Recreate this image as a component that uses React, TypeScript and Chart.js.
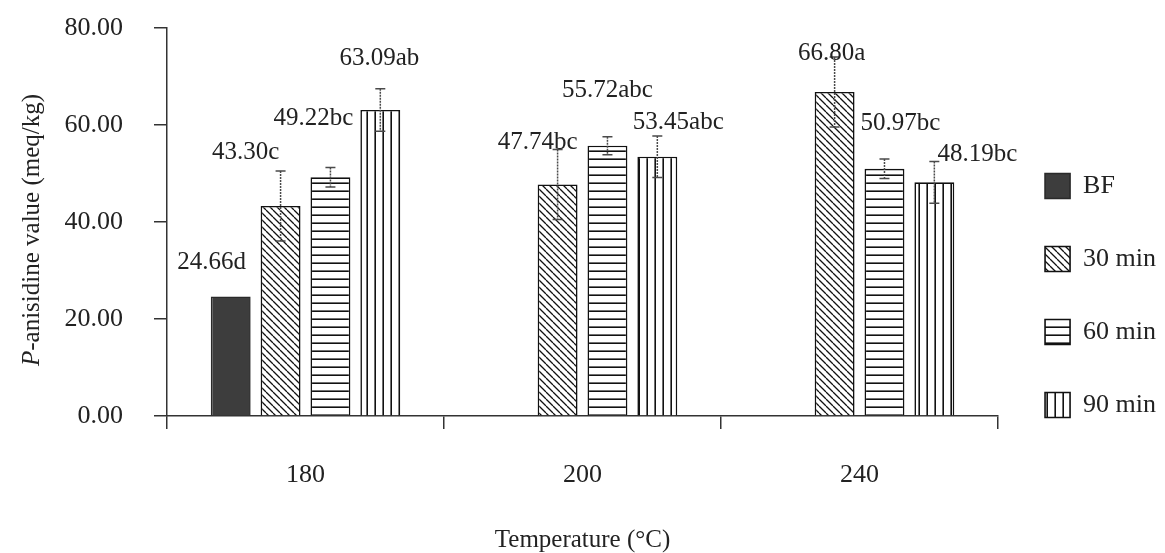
import React, { useEffect, useRef } from 'react';
import { Chart, registerables } from 'chart.js';

Chart.register(...registerables);

// ---------- data ----------
const categories = ['180', '200', '240'];
const seriesNames = ['BF', '30 min', '60 min', '90 min'];
const bfValues = [24.66, null, null];
const min30Values = [43.3, 47.74, 66.8];
const min60Values = [49.22, 55.72, 50.97];
const min90Values = [63.09, 53.45, 48.19];
const bfErrors = [0, null, null];
const min30Errors = [7.2, 7.2, 7.2];
const min60Errors = [2.0, 1.85, 2.0];
const min90Errors = [4.4, 4.3, 4.3];
const bfLetters = ['d', '', ''];
const min30Letters = ['c', 'bc', 'a'];
const min60Letters = ['bc', 'abc', 'bc'];
const min90Letters = ['ab', 'abc', 'bc'];
const yTickValues = [0, 20, 40, 60, 80];
const xTitle = 'Temperature (°C)';
const yTitleItalic = 'P';
const yTitleRest = '-anisidine value (meq/kg)';

// ---------- styling (not data) ----------
const FONT = '"Liberation Serif", "Times New Roman", serif';
const TEXT = '#222';
const AXIS = '#333';
// label offsets [dx, dy] from bar centre / bar top, per series, per category
const LABEL_OFFSETS = [
  [[-19, -34], [0, 0], [0, 0]],
  [[-35, -54], [-20, -42], [-3, -39]],
  [[-17, -59], [0, -55], [16, -45]],
  [[-1, -52], [21, -34], [43, -28]],
];

function makePattern(kind: 'diag' | 'horiz' | 'vert'): CanvasPattern | string {
  const c = document.createElement('canvas');
  const s = kind === 'diag' ? 7 : 8;
  c.width = s;
  c.height = s;
  const g = c.getContext('2d');
  if (!g) return '#fff';
  g.fillStyle = '#ffffff';
  g.fillRect(0, 0, s, s);
  g.fillStyle = '#111';
  g.strokeStyle = '#111';
  if (kind === 'diag') {
    g.lineWidth = 1.3;
    g.beginPath();
    for (const k of [-s, 0, s]) {
      g.moveTo(k, 0);
      g.lineTo(k + s, s);
    }
    g.stroke();
  } else if (kind === 'horiz') {
    g.fillRect(0, s - 1.6, s, 1.6);
  } else {
    g.fillRect(s - 1.6, 0, 1.6, s);
  }
  const p = g.createPattern(c, 'repeat');
  return p || '#fff';
}

const errorsBySeries = [bfErrors, min30Errors, min60Errors, min90Errors];
const lettersBySeries = [bfLetters, min30Letters, min60Letters, min90Letters];

const errorBarPlugin = {
  id: 'errorBars',
  afterDatasetsDraw(chart: any) {
    const { ctx } = chart;
    const yScale = chart.scales.y;
    chart.data.datasets.forEach((ds: any, di: number) => {
      const meta = chart.getDatasetMeta(di);
      const errs = errorsBySeries[di];
      meta.data.forEach((bar: any, i: number) => {
        const v = ds.data[i];
        const e = errs[i];
        if (v == null || !e) return;
        const x = bar.x;
        const yTop = yScale.getPixelForValue(v + e);
        const yBot = yScale.getPixelForValue(v - e);
        ctx.save();
        ctx.strokeStyle = '#4a4a4a';
        ctx.lineWidth = 1.5;
        ctx.setLineDash([2, 1]);
        ctx.beginPath();
        ctx.moveTo(x, yTop);
        ctx.lineTo(x, yBot);
        ctx.stroke();
        ctx.setLineDash([]);
        ctx.beginPath();
        ctx.moveTo(x - 5, yTop);
        ctx.lineTo(x + 5, yTop);
        ctx.moveTo(x - 5, yBot);
        ctx.lineTo(x + 5, yBot);
        ctx.stroke();
        ctx.restore();
      });
    });
  },
};

const labelPlugin = {
  id: 'valueLabels',
  afterDatasetsDraw(chart: any) {
    const { ctx } = chart;
    chart.data.datasets.forEach((ds: any, di: number) => {
      const meta = chart.getDatasetMeta(di);
      meta.data.forEach((bar: any, i: number) => {
        const v = ds.data[i];
        if (v == null) return;
        const [dx, dy] = LABEL_OFFSETS[di][i];
        ctx.save();
        ctx.font = `25px ${FONT}`;
        ctx.fillStyle = TEXT;
        ctx.textAlign = 'center';
        ctx.textBaseline = 'middle';
        ctx.fillText(v.toFixed(2) + lettersBySeries[di][i], bar.x + dx, bar.y + dy);
        ctx.restore();
      });
    });
  },
};

const yTitlePlugin = {
  id: 'yTitleMixed',
  afterDraw(chart: any) {
    const { ctx, chartArea } = chart;
    const cy = (chartArea.top + chartArea.bottom) / 2 + 8;
    ctx.save();
    ctx.translate(32, cy);
    ctx.rotate(-Math.PI / 2);
    const italic = `italic 25px ${FONT}`;
    const normal = `25px ${FONT}`;
    ctx.font = italic;
    const w1 = ctx.measureText(yTitleItalic).width;
    ctx.font = normal;
    const w2 = ctx.measureText(yTitleRest).width;
    const x0 = -(w1 + w2) / 2;
    ctx.textBaseline = 'middle';
    ctx.textAlign = 'left';
    ctx.fillStyle = TEXT;
    ctx.font = italic;
    ctx.fillText(yTitleItalic, x0, 0);
    ctx.font = normal;
    ctx.fillText(yTitleRest, x0 + w1, 0);
    ctx.restore();
  },
};

export default function App() {
  const ref = useRef<HTMLCanvasElement | null>(null);

  useEffect(() => {
    if (!ref.current) return;
    Chart.defaults.font.family = FONT;
    const fills = ['#3d3d3d', makePattern('diag'), makePattern('horiz'), makePattern('vert')];
    const values = [bfValues, min30Values, min60Values, min90Values];
    const chart = new Chart(ref.current, {
      type: 'bar',
      data: {
        labels: categories,
        datasets: seriesNames.map((name, i) => ({
          label: name,
          data: values[i],
          backgroundColor: fills[i] as any,
          borderColor: i === 0 ? '#2a2a2a' : '#111',
          borderWidth: 1.6,
          categoryPercentage: 0.72,
          barPercentage: 0.8,
        })),
      },
      options: {
        animation: false,
        responsive: true,
        maintainAspectRatio: false,
        layout: { padding: { top: 28, right: -1, bottom: 0, left: 0 } },
        plugins: {
          tooltip: { enabled: false },
          legend: {
            position: 'right',
            align: 'center',
            title: { display: true, text: '', font: { size: 10, lineHeight: 1 }, padding: 0 },
            labels: {
              boxWidth: 25,
              boxHeight: 25,
              padding: 47,
              color: TEXT,
              font: { size: 26, family: FONT },
            },
          },
        },
        scales: {
          x: {
            grid: {
              display: true,
              drawOnChartArea: false,
              drawTicks: true,
              tickLength: 13,
              color: AXIS,
              lineWidth: 1.5,
            },
            border: { display: true, color: AXIS, width: 1.5 },
            ticks: { color: TEXT, padding: 31, font: { size: 26, family: FONT } },
            title: {
              display: true,
              text: xTitle,
              color: TEXT,
              font: { size: 25, family: FONT, lineHeight: 1 },
              padding: { top: 0, bottom: 0 },
            },
            afterFit(scale: any) {
              scale.height = 137;
            },
          },
          y: {
            min: 0,
            max: 80,
            afterBuildTicks(scale: any) {
              scale.ticks = yTickValues.map((v) => ({ value: v }));
            },
            grid: {
              display: true,
              drawOnChartArea: false,
              drawTicks: true,
              tickLength: 13,
              color: AXIS,
              lineWidth: 1.5,
            },
            border: { display: true, color: AXIS, width: 1.5 },
            ticks: {
              color: TEXT,
              padding: 31,
              font: { size: 26, family: FONT },
              callback: (v: any) => Number(v).toFixed(2),
            },
            afterFit(scale: any) {
              scale.width = 167;
              scale.paddingTop = 0;
              scale.paddingBottom = 0;
            },
          },
        },
      },
      plugins: [errorBarPlugin, labelPlugin, yTitlePlugin],
    });
    return () => chart.destroy();
  }, []);

  return (
    <div style={{ position: 'fixed', left: 0, top: 0, width: 1165, height: 553, background: '#fff' }}>
      <canvas ref={ref} />
    </div>
  );
}
